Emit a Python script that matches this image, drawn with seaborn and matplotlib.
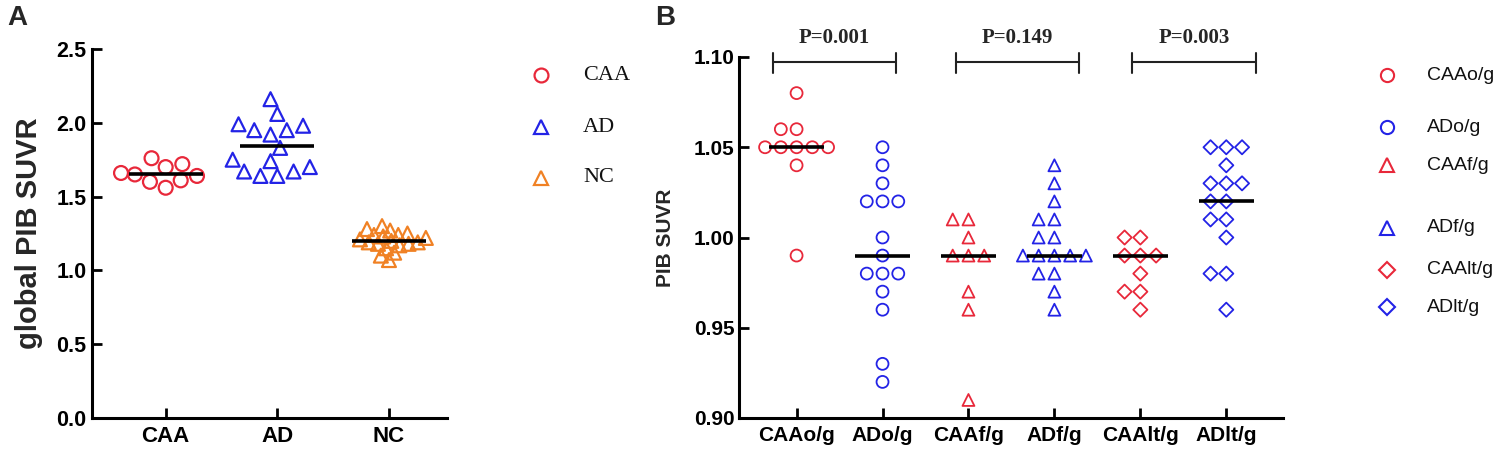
import numpy as np
import pandas as pd
import matplotlib
matplotlib.use("Agg")
import matplotlib.pyplot as plt
import seaborn as sns
from matplotlib.lines import Line2D

# ---------------- data ----------------
groups_a = ["CAA", "AD", "NC"]
caa_global = [1.76, 1.72, 1.70, 1.66, 1.65, 1.64, 1.61, 1.60, 1.56]
ad_global = [2.16, 2.06, 1.99, 1.98, 1.95, 1.95, 1.92, 1.83, 1.75, 1.74,
             1.70, 1.67, 1.67, 1.64, 1.64]
nc_global = [1.30, 1.28, 1.27, 1.25, 1.24, 1.24, 1.23, 1.22, 1.21, 1.20,
             1.19, 1.19, 1.18, 1.18, 1.17, 1.15, 1.12, 1.10, 1.07]

groups_b = ["CAAo/g", "ADo/g", "CAAf/g", "ADf/g", "CAAlt/g", "ADlt/g"]
caa_o = [1.08, 1.06, 1.06, 1.05, 1.05, 1.05, 1.05, 1.05, 1.04, 0.99]
ad_o = [1.05, 1.04, 1.03, 1.02, 1.02, 1.02, 1.00, 0.99, 0.98, 0.98, 0.98,
        0.97, 0.96, 0.93, 0.92]
caa_f = [1.01, 1.01, 1.00, 0.99, 0.99, 0.99, 0.97, 0.96, 0.91]
ad_f = [1.04, 1.03, 1.02, 1.01, 1.01, 1.00, 1.00, 0.99, 0.99, 0.99, 0.99,
        0.99, 0.98, 0.98, 0.97, 0.96]
caa_lt = [1.00, 1.00, 0.99, 0.99, 0.99, 0.98, 0.97, 0.97, 0.96]
ad_lt = [1.05, 1.05, 1.05, 1.04, 1.03, 1.03, 1.03, 1.02, 1.02, 1.01, 1.01,
         1.00, 0.98, 0.98, 0.96]

p_labels = ["P=0.001", "P=0.149", "P=0.003"]

yticks_a = [0.0, 0.5, 1.0, 1.5, 2.0, 2.5]
yticks_b = [0.90, 0.95, 1.00, 1.05, 1.10]

# ---------------- style ----------------
RED = "#E8283A"
BLUE = "#2323E6"
ORANGE = "#F08124"

sns.set_theme(style="ticks")
plt.rcParams['font.family'] = ['Liberation Sans', 'DejaVu Sans']

W, H = 1496, 451
fig = plt.figure(figsize=(W / 100, H / 100), dpi=100)
axA = fig.add_axes([92 / W, 1 - 418 / H, (447 - 92) / W, (418 - 49) / H])
axB = fig.add_axes([739 / W, 1 - 418 / H, (1283 - 739) / W, (418 - 57) / H])

# collections whose marker size is changed after seaborn's swarm layout
resize_after_layout = []


def hollow_swarm(ax, name, vals, order, marker, color, layout_size, size, lw):
    n0 = len(ax.collections)
    df = pd.DataFrame({"group": [name] * len(vals), "value": vals})
    sns.swarmplot(data=df, x="group", y="value", order=order, marker=marker,
                  color=color, size=layout_size, linewidth=lw, ax=ax, zorder=3,
                  warn_thresh=1.0)
    for c in ax.collections[n0:]:
        c.set_facecolor("none")
        c.set_edgecolor(color)
        c.set_linewidth(lw)
        resize_after_layout.append((c, size))


def style_axis(ax, lw=2.2):
    sns.despine(ax=ax)
    for s in ["left", "bottom"]:
        ax.spines[s].set_linewidth(lw)
        ax.spines[s].set_color("black")
    ax.tick_params(direction="in", length=7, width=2, colors="black")


# ---------------- panel A ----------------
spec_a = [(caa_global, "o", RED), (ad_global, "^", BLUE), (nc_global, "^", ORANGE)]
layout_a = [10, 10, 4.8]
for i, (name, (vals, mk, col), ls) in enumerate(zip(groups_a, spec_a, layout_a)):
    hollow_swarm(axA, name, vals, groups_a, mk, col, ls, 10, 1.6)
    axA.hlines(np.mean(vals), i - 0.33, i + 0.33, color="black", lw=2.6, zorder=5)

axA.set_xlim(-0.66, 2.52)
axA.set_ylim(0, 2.5)
axA.set_yticks(yticks_a)
axA.set_yticklabels([f"{v:.1f}" for v in yticks_a], fontsize=15.5, fontweight="bold")
axA.set_xticks(range(len(groups_a)))
axA.set_xticklabels(groups_a, fontsize=16, fontweight="bold")
axA.set_xlabel("")
axA.set_ylabel("global PIB SUVR", fontsize=21, fontweight="bold")
axA.yaxis.set_label_coords(-0.138, 0.5)
style_axis(axA)
axA.tick_params(axis="y", pad=4)
axA.tick_params(axis="x", pad=6)

# ---------------- panel B ----------------
spec_b = [(caa_o, "o", RED), (ad_o, "o", BLUE), (caa_f, "^", RED),
          (ad_f, "^", BLUE), (caa_lt, "D", RED), (ad_lt, "D", BLUE)]
for i, (name, (vals, mk, col)) in enumerate(zip(groups_b, spec_b)):
    sz = 7.2 if mk == "D" else 8.6
    hollow_swarm(axB, name, vals, groups_b, mk, col, 9.5, sz, 1.3)
    axB.hlines(np.median(vals), i - 0.32, i + 0.32, color="black", lw=2.6, zorder=5)

axB.set_xlim(-0.67, 5.66)
axB.set_ylim(0.90, 1.10)
axB.set_yticks(yticks_b)
axB.set_yticklabels([f"{v:.2f}" for v in yticks_b], fontsize=15, fontweight="bold")
axB.set_xticks(range(len(groups_b)))
axB.set_xticklabels(groups_b, fontsize=15, fontweight="bold")
axB.set_xlabel("")
axB.set_ylabel("PIB SUVR", fontsize=15, fontweight="bold")
axB.yaxis.set_label_coords(-0.118, 0.5)
style_axis(axB)
axB.tick_params(axis="y", pad=3)
axB.tick_params(axis="x", pad=6)

# significance brackets
bracket_spans = [(-0.28, 1.16), (1.85, 3.29), (3.90, 5.35)]
y_br, y_lo, y_hi, y_txt = 1.0972, 1.0913, 1.1024, 1.1105
for (x0, x1), lab in zip(bracket_spans, p_labels):
    axB.plot([x0, x1], [y_br, y_br], color="#222222", lw=1.5, clip_on=False)
    axB.plot([x0, x0], [y_lo, y_hi], color="#222222", lw=1.5, clip_on=False)
    axB.plot([x1, x1], [y_lo, y_hi], color="#222222", lw=1.5, clip_on=False)
    axB.text((x0 + x1) / 2, y_txt, lab, ha="center", va="center",
             fontsize=15, fontweight="bold", family=["Liberation Serif", "DejaVu Serif"])

# ---------------- legends ----------------
def fig_marker(px, py, marker, color, ms, mew):
    fig.add_artist(Line2D([px / W], [1 - py / H], transform=fig.transFigure,
                          marker=marker, markersize=ms, markerfacecolor="none",
                          markeredgecolor=color, markeredgewidth=mew, linestyle="none"))


leg_a_rows = [75, 127, 178]
for lab, (vals, mk, col), py in zip(groups_a, spec_a, leg_a_rows):
    fig_marker(541, py, mk, col, 10, 1.6)
    fig.text(583 / W, 1 - py / H, lab, ha="left", va="center", fontsize=16,
             family=["Liberation Serif", "DejaVu Serif"], color="#111111")

leg_b_rows = [75, 127, 165, 228, 270, 307]
for lab, (vals, mk, col), py in zip(groups_b, spec_b, leg_b_rows):
    fig_marker(1387, py, mk, col, 8.0 if mk == "D" else 9.5, 1.5)
    fig.text(1427 / W, 1 - py / H, lab, ha="left", va="center", fontsize=14,
             color="#111111")

# panel letters
fig.text(7 / W, 1 - 18 / H, "A", ha="left", va="center", fontsize=20, fontweight="bold")
fig.text(655 / W, 1 - 18 / H, "B", ha="left", va="center", fontsize=20, fontweight="bold")

# run seaborn's swarm layout once, then freeze it and set the display size
fig.canvas.draw()
for c, size in resize_after_layout:
    if "draw" in c.__dict__:
        del c.draw
    c.set_sizes([size ** 2])

fig.savefig("out.png", dpi=100)
